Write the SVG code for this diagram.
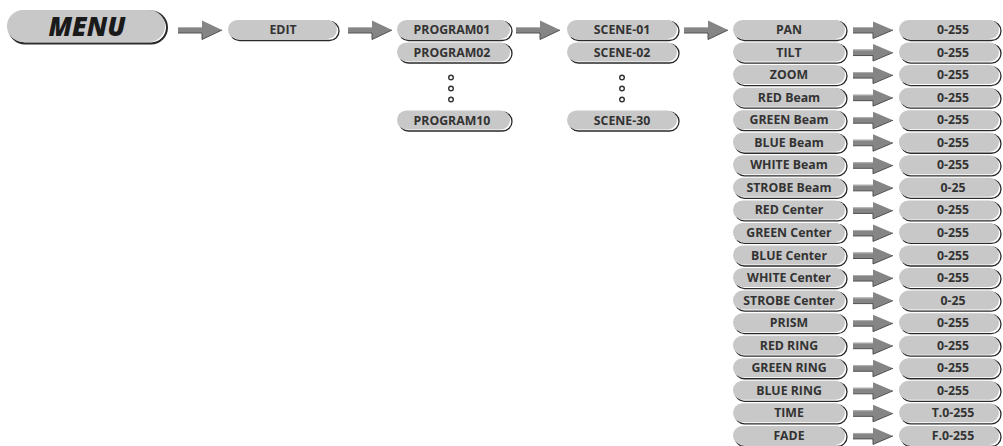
<svg xmlns="http://www.w3.org/2000/svg" width="1003" height="446" viewBox="0 0 1003 446">
<style>
.p{fill:#c8c8c8}
.s{fill:none;stroke:#2a2a2a;stroke-width:1.3}
.t{font-family:"Open Sans","Liberation Sans",sans-serif;font-weight:700;font-size:12.3px;fill:#333;text-anchor:middle}
.m{font-family:"Open Sans","Liberation Sans",sans-serif;font-weight:800;font-style:italic;font-size:26px;fill:#1a1a1a;text-anchor:middle}
.a{fill:#858585}
.ae{fill:none;stroke:#505050;stroke-width:1}
.al{fill:none;stroke:#b0b0b0;stroke-width:1}
.d{fill:#fff;stroke:#333;stroke-width:1.4}
</style>
<defs>
<g id="arrBig">
<polygon class="a" points="0,-3 24,-3 24,-9.5 44,0 24,9.5 24,3 0,3"/>
<path class="al" d="M0,-2.5 H24"/>
<path class="ae" d="M0,3 H24 V9.5 L44,0"/>
</g>
<g id="arrSm">
<polygon class="a" points="0,-3 20,-3 20,-8.5 40,0 20,8.5 20,3 0,3"/>
<path class="al" d="M0,-2.5 H20"/>
<path class="ae" d="M0,3 H20 V8.5 L40,0"/>
</g>
</defs>

<g id="connectors">
<use href="#arrBig" x="178" y="30"/>
<use href="#arrBig" x="348" y="30"/>
<use href="#arrBig" x="516" y="30"/>
<use href="#arrBig" x="684" y="30"/>
<use href="#arrSm" x="853" y="30"/>
<use href="#arrSm" x="853" y="52.55"/>
<use href="#arrSm" x="853" y="75.1"/>
<use href="#arrSm" x="853" y="97.65"/>
<use href="#arrSm" x="853" y="120.2"/>
<use href="#arrSm" x="853" y="142.75"/>
<use href="#arrSm" x="853" y="165.3"/>
<use href="#arrSm" x="853" y="187.85"/>
<use href="#arrSm" x="853" y="210.4"/>
<use href="#arrSm" x="853" y="232.95"/>
<use href="#arrSm" x="853" y="255.5"/>
<use href="#arrSm" x="853" y="278.05"/>
<use href="#arrSm" x="853" y="300.6"/>
<use href="#arrSm" x="853" y="323.15"/>
<use href="#arrSm" x="853" y="345.7"/>
<use href="#arrSm" x="853" y="368.25"/>
<use href="#arrSm" x="853" y="390.8"/>
<use href="#arrSm" x="853" y="413.35"/>
<use href="#arrSm" x="853" y="435.9"/>
</g>

<g id="menu">
<rect class="s" style="stroke-width:2" x="9" y="11.5" width="158" height="32" rx="16"/>
<rect class="p" x="7" y="10" width="158" height="32" rx="16"/>
<text class="m" x="87" y="35.5">MENU</text>
</g>

<g id="edit">
<rect class="s" x="230" y="21.5" width="109" height="19" rx="9.5"/>
<rect class="p" x="228" y="20" width="109" height="19" rx="9.5"/>
<text class="t" x="283" y="34">EDIT</text>
</g>

<g id="program01">
<rect class="s" x="399" y="21.5" width="113" height="19" rx="9.5"/>
<rect class="p" x="397" y="20" width="113" height="19" rx="9.5"/>
<text class="t" x="452" y="34">PROGRAM01</text>
</g>
<g id="program02">
<rect class="s" x="399" y="44" width="113" height="19" rx="9.5"/>
<rect class="p" x="397" y="42.5" width="113" height="19" rx="9.5"/>
<text class="t" x="452" y="56.5">PROGRAM02</text>
</g>
<g id="program-dots">
<circle class="d" cx="451" cy="77.5" r="2.3"/>
<circle class="d" cx="451" cy="88.5" r="2.3"/>
<circle class="d" cx="451" cy="99.5" r="2.3"/>
</g>
<g id="program10">
<rect class="s" x="399" y="112" width="113" height="19" rx="9.5"/>
<rect class="p" x="397" y="110.5" width="113" height="19" rx="9.5"/>
<text class="t" x="452" y="124.5">PROGRAM10</text>
</g>

<g id="scene01">
<rect class="s" x="569" y="21.5" width="110" height="19" rx="9.5"/>
<rect class="p" x="567" y="20" width="110" height="19" rx="9.5"/>
<text class="t" x="622" y="34">SCENE-01</text>
</g>
<g id="scene02">
<rect class="s" x="569" y="44" width="110" height="19" rx="9.5"/>
<rect class="p" x="567" y="42.5" width="110" height="19" rx="9.5"/>
<text class="t" x="622" y="56.5">SCENE-02</text>
</g>
<g id="scene-dots">
<circle class="d" cx="622" cy="77.5" r="2.3"/>
<circle class="d" cx="622" cy="88.5" r="2.3"/>
<circle class="d" cx="622" cy="99.5" r="2.3"/>
</g>
<g id="scene30">
<rect class="s" x="569" y="112" width="110" height="19" rx="9.5"/>
<rect class="p" x="567" y="110.5" width="110" height="19" rx="9.5"/>
<text class="t" x="622" y="124.5">SCENE-30</text>
</g>

<g id="params">
<g id="p-pan" transform="translate(0,0)"><rect class="s" x="735" y="21.5" width="112" height="19" rx="9.5"/><rect class="p" x="733" y="20" width="112" height="19" rx="9.5"/><text class="t" x="789" y="34">PAN</text></g>
<g id="p-tilt" transform="translate(0,22.55)"><rect class="s" x="735" y="21.5" width="112" height="19" rx="9.5"/><rect class="p" x="733" y="20" width="112" height="19" rx="9.5"/><text class="t" x="789" y="34">TILT</text></g>
<g id="p-zoom" transform="translate(0,45.1)"><rect class="s" x="735" y="21.5" width="112" height="19" rx="9.5"/><rect class="p" x="733" y="20" width="112" height="19" rx="9.5"/><text class="t" x="789" y="34">ZOOM</text></g>
<g id="p-redbeam" transform="translate(0,67.65)"><rect class="s" x="735" y="21.5" width="112" height="19" rx="9.5"/><rect class="p" x="733" y="20" width="112" height="19" rx="9.5"/><text class="t" x="789" y="34">RED Beam</text></g>
<g id="p-greenbeam" transform="translate(0,90.2)"><rect class="s" x="735" y="21.5" width="112" height="19" rx="9.5"/><rect class="p" x="733" y="20" width="112" height="19" rx="9.5"/><text class="t" x="789" y="34">GREEN Beam</text></g>
<g id="p-bluebeam" transform="translate(0,112.75)"><rect class="s" x="735" y="21.5" width="112" height="19" rx="9.5"/><rect class="p" x="733" y="20" width="112" height="19" rx="9.5"/><text class="t" x="789" y="34">BLUE Beam</text></g>
<g id="p-whitebeam" transform="translate(0,135.3)"><rect class="s" x="735" y="21.5" width="112" height="19" rx="9.5"/><rect class="p" x="733" y="20" width="112" height="19" rx="9.5"/><text class="t" x="789" y="34">WHITE Beam</text></g>
<g id="p-strobebeam" transform="translate(0,157.85)"><rect class="s" x="735" y="21.5" width="112" height="19" rx="9.5"/><rect class="p" x="733" y="20" width="112" height="19" rx="9.5"/><text class="t" x="789" y="34">STROBE Beam</text></g>
<g id="p-redcenter" transform="translate(0,180.4)"><rect class="s" x="735" y="21.5" width="112" height="19" rx="9.5"/><rect class="p" x="733" y="20" width="112" height="19" rx="9.5"/><text class="t" x="789" y="34">RED Center</text></g>
<g id="p-greencenter" transform="translate(0,202.95)"><rect class="s" x="735" y="21.5" width="112" height="19" rx="9.5"/><rect class="p" x="733" y="20" width="112" height="19" rx="9.5"/><text class="t" x="789" y="34">GREEN Center</text></g>
<g id="p-bluecenter" transform="translate(0,225.5)"><rect class="s" x="735" y="21.5" width="112" height="19" rx="9.5"/><rect class="p" x="733" y="20" width="112" height="19" rx="9.5"/><text class="t" x="789" y="34">BLUE Center</text></g>
<g id="p-whitecenter" transform="translate(0,248.05)"><rect class="s" x="735" y="21.5" width="112" height="19" rx="9.5"/><rect class="p" x="733" y="20" width="112" height="19" rx="9.5"/><text class="t" x="789" y="34">WHITE Center</text></g>
<g id="p-strobecenter" transform="translate(0,270.6)"><rect class="s" x="735" y="21.5" width="112" height="19" rx="9.5"/><rect class="p" x="733" y="20" width="112" height="19" rx="9.5"/><text class="t" x="789" y="34">STROBE Center</text></g>
<g id="p-prism" transform="translate(0,293.15)"><rect class="s" x="735" y="21.5" width="112" height="19" rx="9.5"/><rect class="p" x="733" y="20" width="112" height="19" rx="9.5"/><text class="t" x="789" y="34">PRISM</text></g>
<g id="p-redring" transform="translate(0,315.7)"><rect class="s" x="735" y="21.5" width="112" height="19" rx="9.5"/><rect class="p" x="733" y="20" width="112" height="19" rx="9.5"/><text class="t" x="789" y="34">RED RING</text></g>
<g id="p-greenring" transform="translate(0,338.25)"><rect class="s" x="735" y="21.5" width="112" height="19" rx="9.5"/><rect class="p" x="733" y="20" width="112" height="19" rx="9.5"/><text class="t" x="789" y="34">GREEN RING</text></g>
<g id="p-bluering" transform="translate(0,360.8)"><rect class="s" x="735" y="21.5" width="112" height="19" rx="9.5"/><rect class="p" x="733" y="20" width="112" height="19" rx="9.5"/><text class="t" x="789" y="34">BLUE RING</text></g>
<g id="p-time" transform="translate(0,383.35)"><rect class="s" x="735" y="21.5" width="112" height="19" rx="9.5"/><rect class="p" x="733" y="20" width="112" height="19" rx="9.5"/><text class="t" x="789" y="34">TIME</text></g>
<g id="p-fade" transform="translate(0,405.9)"><rect class="s" x="735" y="21.5" width="112" height="19" rx="9.5"/><rect class="p" x="733" y="20" width="112" height="19" rx="9.5"/><text class="t" x="789" y="34">FADE</text></g>
</g>

<g id="values">
<g id="v-pan" transform="translate(0,0)"><rect class="s" x="901" y="21.5" width="100" height="19" rx="9.5"/><rect class="p" x="899" y="20" width="100" height="19" rx="9.5"/><text class="t" x="953" y="34">0-255</text></g>
<g id="v-tilt" transform="translate(0,22.55)"><rect class="s" x="901" y="21.5" width="100" height="19" rx="9.5"/><rect class="p" x="899" y="20" width="100" height="19" rx="9.5"/><text class="t" x="953" y="34">0-255</text></g>
<g id="v-zoom" transform="translate(0,45.1)"><rect class="s" x="901" y="21.5" width="100" height="19" rx="9.5"/><rect class="p" x="899" y="20" width="100" height="19" rx="9.5"/><text class="t" x="953" y="34">0-255</text></g>
<g id="v-redbeam" transform="translate(0,67.65)"><rect class="s" x="901" y="21.5" width="100" height="19" rx="9.5"/><rect class="p" x="899" y="20" width="100" height="19" rx="9.5"/><text class="t" x="953" y="34">0-255</text></g>
<g id="v-greenbeam" transform="translate(0,90.2)"><rect class="s" x="901" y="21.5" width="100" height="19" rx="9.5"/><rect class="p" x="899" y="20" width="100" height="19" rx="9.5"/><text class="t" x="953" y="34">0-255</text></g>
<g id="v-bluebeam" transform="translate(0,112.75)"><rect class="s" x="901" y="21.5" width="100" height="19" rx="9.5"/><rect class="p" x="899" y="20" width="100" height="19" rx="9.5"/><text class="t" x="953" y="34">0-255</text></g>
<g id="v-whitebeam" transform="translate(0,135.3)"><rect class="s" x="901" y="21.5" width="100" height="19" rx="9.5"/><rect class="p" x="899" y="20" width="100" height="19" rx="9.5"/><text class="t" x="953" y="34">0-255</text></g>
<g id="v-strobebeam" transform="translate(0,157.85)"><rect class="s" x="901" y="21.5" width="100" height="19" rx="9.5"/><rect class="p" x="899" y="20" width="100" height="19" rx="9.5"/><text class="t" x="953" y="34">0-25</text></g>
<g id="v-redcenter" transform="translate(0,180.4)"><rect class="s" x="901" y="21.5" width="100" height="19" rx="9.5"/><rect class="p" x="899" y="20" width="100" height="19" rx="9.5"/><text class="t" x="953" y="34">0-255</text></g>
<g id="v-greencenter" transform="translate(0,202.95)"><rect class="s" x="901" y="21.5" width="100" height="19" rx="9.5"/><rect class="p" x="899" y="20" width="100" height="19" rx="9.5"/><text class="t" x="953" y="34">0-255</text></g>
<g id="v-bluecenter" transform="translate(0,225.5)"><rect class="s" x="901" y="21.5" width="100" height="19" rx="9.5"/><rect class="p" x="899" y="20" width="100" height="19" rx="9.5"/><text class="t" x="953" y="34">0-255</text></g>
<g id="v-whitecenter" transform="translate(0,248.05)"><rect class="s" x="901" y="21.5" width="100" height="19" rx="9.5"/><rect class="p" x="899" y="20" width="100" height="19" rx="9.5"/><text class="t" x="953" y="34">0-255</text></g>
<g id="v-strobecenter" transform="translate(0,270.6)"><rect class="s" x="901" y="21.5" width="100" height="19" rx="9.5"/><rect class="p" x="899" y="20" width="100" height="19" rx="9.5"/><text class="t" x="953" y="34">0-25</text></g>
<g id="v-prism" transform="translate(0,293.15)"><rect class="s" x="901" y="21.5" width="100" height="19" rx="9.5"/><rect class="p" x="899" y="20" width="100" height="19" rx="9.5"/><text class="t" x="953" y="34">0-255</text></g>
<g id="v-redring" transform="translate(0,315.7)"><rect class="s" x="901" y="21.5" width="100" height="19" rx="9.5"/><rect class="p" x="899" y="20" width="100" height="19" rx="9.5"/><text class="t" x="953" y="34">0-255</text></g>
<g id="v-greenring" transform="translate(0,338.25)"><rect class="s" x="901" y="21.5" width="100" height="19" rx="9.5"/><rect class="p" x="899" y="20" width="100" height="19" rx="9.5"/><text class="t" x="953" y="34">0-255</text></g>
<g id="v-bluering" transform="translate(0,360.8)"><rect class="s" x="901" y="21.5" width="100" height="19" rx="9.5"/><rect class="p" x="899" y="20" width="100" height="19" rx="9.5"/><text class="t" x="953" y="34">0-255</text></g>
<g id="v-time" transform="translate(0,383.35)"><rect class="s" x="901" y="21.5" width="100" height="19" rx="9.5"/><rect class="p" x="899" y="20" width="100" height="19" rx="9.5"/><text class="t" x="953" y="34">T.0-255</text></g>
<g id="v-fade" transform="translate(0,405.9)"><rect class="s" x="901" y="21.5" width="100" height="19" rx="9.5"/><rect class="p" x="899" y="20" width="100" height="19" rx="9.5"/><text class="t" x="953" y="34">F.0-255</text></g>
</g>
</svg>
